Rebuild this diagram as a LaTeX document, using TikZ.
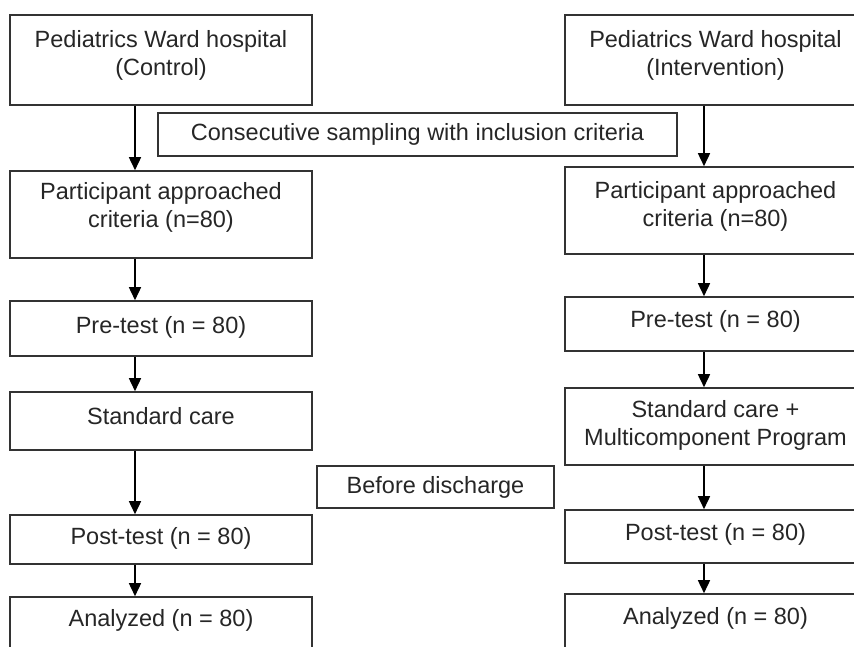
\documentclass[tikz,border=0pt]{standalone}
\usepackage{fontspec}
\setmainfont{Liberation Sans}
\usetikzlibrary{arrows.meta}
\begin{document}
\begin{tikzpicture}[x=1pt,y=-1pt,
  box/.style={draw=black!80, line width=1.6pt, rectangle, inner sep=0pt},
  txt/.style={inner sep=0pt, align=center, text=black!85, font=\fontsize{23.5}{28}\selectfont},
  arr/.style={draw=black, line width=1.6pt, -{Triangle[length=13pt,width=12pt]}}]
\useasboundingbox (0,0) rectangle (854,646);
\clip (0,0) rectangle (854,646);
% left column (x 10..312)
\node[box, minimum width=302, minimum height=90] (l1) at (161,60) {};
\node[box, minimum width=302, minimum height=87] (l2) at (161,214.5) {};
\node[box, minimum width=302, minimum height=55] (l3) at (161,328.5) {};
\node[box, minimum width=302, minimum height=58] (l4) at (161,421) {};
\node[box, minimum width=302, minimum height=49] (l5) at (161,539.5) {};
\node[box, minimum width=302, minimum height=66] (l6) at (161,630) {};
\node[txt] (l1t) at ([yshift=5pt]l1.center) {Pediatrics Ward hospital\\(Control)};
\node[txt] (l2t) at ([yshift=7pt]l2.center) {Participant approached\\criteria (n=80)};
\node[txt] (l3t) at ([yshift=1pt]l3.center) {Pre-test (n = 80)};
\node[txt] (l4t) at ([yshift=5pt]l4.center) {Standard care};
\node[txt] (l5t) at ([yshift=1pt]l5.center) {Post-test (n = 80)};
\node[txt] (l6t) at ([yshift=10pt]l6.center) {Analyzed (n = 80)};
% right column (x 565..866)
\node[box, minimum width=301, minimum height=90] (r1) at (715.5,60) {};
\node[box, minimum width=301, minimum height=87] (r2) at (715.5,210.5) {};
\node[box, minimum width=301, minimum height=54] (r3) at (715.5,324) {};
\node[box, minimum width=301, minimum height=77] (r4) at (715.5,426.5) {};
\node[box, minimum width=301, minimum height=53] (r5) at (715.5,536.5) {};
\node[box, minimum width=301, minimum height=66] (r6) at (715.5,627) {};
\node[txt] (r1t) at ([yshift=5pt]r1.center) {Pediatrics Ward hospital\\(Intervention)};
\node[txt] (r2t) at ([yshift=4pt]r2.center) {Participant approached\\criteria (n=80)};
\node[txt] (r3t) at ([yshift=3pt]r3.center) {Pre-test (n = 80)};
\node[txt] (r4t) at ([yshift=1pt]r4.center) {Standard care +\\Multicomponent Program};
\node[txt] (r5t) at ([yshift=2pt]r5.center) {Post-test (n = 80)};
\node[txt] (r6t) at ([yshift=9pt]r6.center) {Analyzed (n = 80)};
% middle boxes
\node[box, minimum width=519, minimum height=43] (m1) at (417.5,134.5) {};
\node[txt] (m1t) at (m1.center) {Consecutive sampling with inclusion criteria};
\node[box, minimum width=237, minimum height=42] (m2) at (435.5,487) {};
\node[txt] (m2t) at (m2.center) {Before discharge};
% arrow columns
\coordinate (lx) at (135,0);
\coordinate (rx) at (704,0);
\foreach \a/\b in {l1/l2,l2/l3,l3/l4,l4/l5,l5/l6}
  \draw[arr] (lx |- \a.south) -- (lx |- \b.north);
\foreach \a/\b in {r1/r2,r2/r3,r3/r4,r4/r5,r5/r6}
  \draw[arr] (rx |- \a.south) -- (rx |- \b.north);
\end{tikzpicture}
\end{document}
